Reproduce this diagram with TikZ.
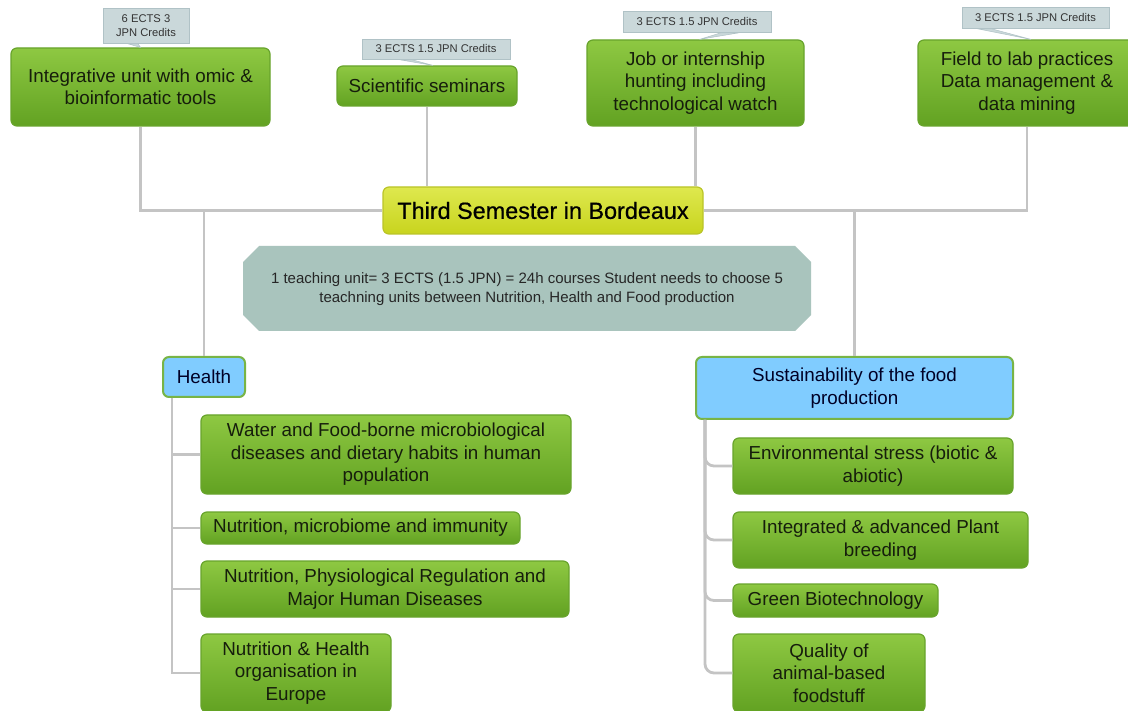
\documentclass[tikz,border=0pt]{standalone}
\usepackage{fontspec}
\setmainfont{Liberation Sans}
\newfontfamily\titlefont[FakeBold=0.6]{Liberation Sans}
\usetikzlibrary{calc}
\definecolor{gtop}{RGB}{142,200,66}
\definecolor{gbot}{RGB}{98,162,34}
\definecolor{gline}{RGB}{104,164,44}
\definecolor{gtext}{RGB}{22,30,12}
\definecolor{bluefill}{RGB}{128,204,255}
\definecolor{blueline}{RGB}{120,180,70}
\definecolor{ytop}{RGB}{222,232,78}
\definecolor{ybot}{RGB}{200,212,30}
\definecolor{yline}{RGB}{186,196,40}
\definecolor{notefill}{RGB}{169,196,189}
\definecolor{labfill}{RGB}{202,216,218}
\definecolor{labline}{RGB}{176,194,198}
\definecolor{conn}{RGB}{196,196,196}
\begin{document}
\begin{tikzpicture}[x=1pt,y=-1pt,
  greenbox/.style={draw=gline, line width=1.2pt, rounded corners=6pt,
    top color=gtop, bottom color=gbot, text=gtext, align=center,
    inner sep=0pt, font=\fontsize{18.8}{22.4}\selectfont},
  bluebox/.style={draw=blueline, line width=2pt, rounded corners=6pt,
    fill=bluefill, text=black!85!blue, align=center, inner sep=0pt,
    font=\fontsize{18.8}{22.4}\selectfont},
  titlebox/.style={draw=yline, line width=1.2pt, rounded corners=6pt,
    top color=ytop, bottom color=ybot, text=black, align=center,
    inner sep=0pt, font=\titlefont\fontsize{23.4}{26}\selectfont},
  labbox/.style={draw=labline, line width=0.6pt, fill=labfill,
    text=black!80, align=center, inner sep=0pt,
    font=\fontsize{11.2}{13.5}\selectfont},
  labtail/.style={draw=labline, line width=0.5pt, fill=labfill},
  connector/.style={draw=conn, line width=2.8pt},
  notetext/.style={text=black!85, align=center, inner sep=0pt,
    font=\fontsize{15}{19}\selectfont}
]
\useasboundingbox (0,0) rectangle (1128,711);
\fill[white] (0,0) rectangle (1128,711);

% top units
\node[greenbox, minimum width=259pt, minimum height=78pt] (box1) at (140.5,87)
  {Integrative unit with omic \&\\bioinformatic tools};
\node[greenbox, minimum width=180pt, minimum height=40pt] (box2) at (427,86)
  {Scientific seminars};
\node[greenbox, minimum width=217pt, minimum height=86pt] (box3) at (695.5,83)
  {Job or internship\\hunting including\\technological watch};
\node[greenbox, minimum width=218pt, minimum height=86pt] (box4) at (1027,83)
  {Field to lab practices\\Data management \&\\data mining};

\node[titlebox, minimum width=320pt, minimum height=47pt] (title) at (543,210.5)
  {Third Semester in Bordeaux};

% connectors (top)
\draw[connector] (box1.south) -- (box1.south |- title.west) -- (title.west);
\draw[connector] (title.east) -- (box4.south |- title.east) -- (box4.south);
\draw[connector] (box2.south) -- (box2.south |- title.north);
\draw[connector] (box3.south) -- (box3.south |- title.north);

% note
\fill[notefill] (259,246) -- (795,246) -- (811,262) -- (811,315) -- (795,331)
  -- (259,331) -- (243,315) -- (243,262) -- cycle;
\node[notetext] (note) at (527,289)
  {1 teaching unit= 3 ECTS (1.5 JPN) = 24h courses Student needs to choose 5\\
   teachning units between Nutrition, Health and Food production};

% categories
\node[bluebox, minimum width=82pt, minimum height=40pt] (health) at (204,377) {Health};
\node[bluebox, minimum width=317pt, minimum height=62pt] (sust) at (854.5,388)
  {Sustainability of the food\\production};

\draw[connector] (health.north |- title.west) -- (health.north);
\draw[connector] (sust.north |- title.east) -- (sust.north);

% health children
\node[greenbox, minimum width=370pt, minimum height=79pt] (water) at (386,454.5)
  {Water and Food-borne microbiological\\diseases and dietary habits in human\\population};
\node[greenbox, minimum width=319pt, minimum height=32pt] (micro) at (360.5,528)
  {Nutrition, microbiome and immunity};
\node[greenbox, minimum width=368pt, minimum height=56pt] (physio) at (385,589)
  {Nutrition, Physiological Regulation and\\Major Human Diseases};
\node[greenbox, minimum width=190pt, minimum height=78pt] (nh) at (296,673)
  {Nutrition \& Health\\organisation in\\Europe};

\coordinate (hb) at ([xshift=10pt]health.south west);
\draw[connector] (hb) |- (water.west);
\draw[connector] (hb) |- (micro.west);
\draw[connector] (hb) |- (physio.west);
\draw[connector] (hb) |- (nh.west);

% sustainability children
\node[greenbox, minimum width=280pt, minimum height=56pt] (env) at (873,466)
  {Environmental stress (biotic \&\\abiotic)};
\node[greenbox, minimum width=295pt, minimum height=56pt] (integ) at (880.5,540)
  {Integrated \& advanced Plant\\breeding};
\node[greenbox, minimum width=205pt, minimum height=33pt] (green) at (835.5,600.5)
  {Green Biotechnology};
\node[greenbox, minimum width=192pt, minimum height=78pt] (qual) at (829,673)
  {Quality of\\animal-based\\foodstuff};

\coordinate (sb) at ([xshift=10pt]sust.south west);
\draw[connector, rounded corners=9pt] (sb) |- (env.west);
\draw[connector, rounded corners=9pt] (sb) |- (integ.west);
\draw[connector, rounded corners=9pt] (sb) |- (green.west);
\draw[connector, rounded corners=9pt] (sb) |- (qual.west);

% credit labels
\node[labbox, minimum width=86pt, minimum height=35pt] (lab1) at (146,25.5)
  {6 ECTS 3\\JPN Credits};
\node[labbox, minimum width=148pt, minimum height=20pt] (lab2) at (436,49)
  {3 ECTS 1.5 JPN Credits};
\node[labbox, minimum width=148pt, minimum height=21pt] (lab3) at (697,21.5)
  {3 ECTS 1.5 JPN Credits};
\node[labbox, minimum width=147pt, minimum height=21pt] (lab4) at (1035.5,17.5)
  {3 ECTS 1.5 JPN Credits};

\draw[labtail] ([xshift=-18pt,yshift=-0.5pt]lab1.south) -- ([xshift=-8pt,yshift=-0.5pt]lab1.south)
  -- ([xshift=0pt]box1.north) -- cycle;
\draw[labtail] ([xshift=-36pt,yshift=-0.5pt]lab2.south) -- ([xshift=-24pt,yshift=-0.5pt]lab2.south)
  -- ([xshift=6pt]box2.north) -- cycle;
\draw[labtail] ([xshift=24pt,yshift=-0.5pt]lab3.south) -- ([xshift=42pt,yshift=-0.5pt]lab3.south)
  -- ([xshift=4pt]box3.north) -- cycle;
\draw[labtail] ([xshift=-58pt,yshift=-0.5pt]lab4.south) -- ([xshift=-44pt,yshift=-0.5pt]lab4.south)
  -- ([xshift=4pt]box4.north) -- cycle;
\end{tikzpicture}
\end{document}
